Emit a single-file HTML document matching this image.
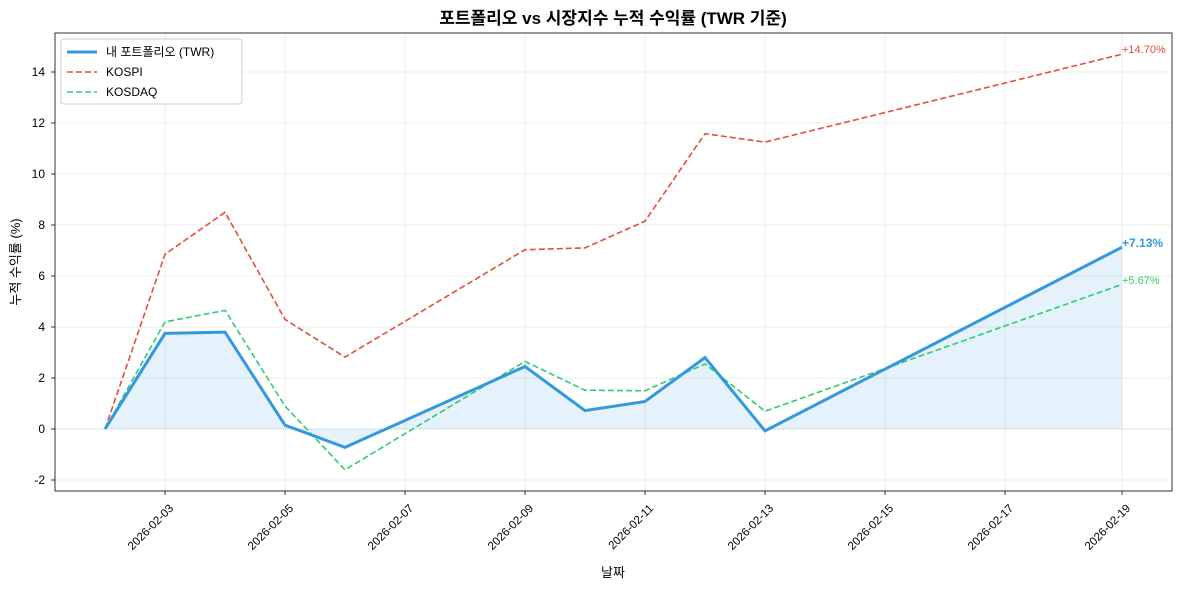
<!DOCTYPE html>
<html><head><meta charset="utf-8"><style>
body{margin:0;background:#fff;}
svg text{font-family:"Liberation Sans","Noto Sans CJK KR",sans-serif;}
</style></head><body>
<svg width="1182" height="590" xmlns="http://www.w3.org/2000/svg">
<rect width="1182" height="590" fill="#fff"/>
<text x="613" y="24" text-anchor="middle" font-size="17" font-weight="bold" fill="#000">포트폴리오 vs 시장지수 누적 수익률 (TWR 기준)</text>
<g stroke="#e6e6e6" stroke-width="0.8">
<line x1="55" x2="1172" y1="480" y2="480"/><line x1="55" x2="1172" y1="378" y2="378"/>
<line x1="55" x2="1172" y1="327" y2="327"/><line x1="55" x2="1172" y1="276" y2="276"/>
<line x1="55" x2="1172" y1="225" y2="225"/><line x1="55" x2="1172" y1="174" y2="174"/>
<line x1="55" x2="1172" y1="123" y2="123"/><line x1="55" x2="1172" y1="72" y2="72"/>
<line x1="165" x2="165" y1="33" y2="491"/><line x1="285" x2="285" y1="33" y2="491"/>
<line x1="405" x2="405" y1="33" y2="491"/><line x1="525" x2="525" y1="33" y2="491"/>
<line x1="645" x2="645" y1="33" y2="491"/><line x1="765" x2="765" y1="33" y2="491"/>
<line x1="885" x2="885" y1="33" y2="491"/><line x1="1005" x2="1005" y1="33" y2="491"/>
<line x1="1122" x2="1122" y1="33" y2="491"/>
</g>
<polygon points="105,429 165,333.4 225,332.1 285,425.2 345,447.4 525,366.5 585,410.6 645,401.5 705,357.6 765,430.8 1122,247.2 1122,429" fill="#3498db" fill-opacity="0.12"/>
<line x1="55" x2="1172" y1="429" y2="429" stroke="#888" stroke-width="0.6" stroke-dasharray="1,1"/>
<polyline points="105,429 165,254.3 225,212.3 285,319.4 345,357.1 525,249.7 585,247.9 645,221.2 705,133.7 765,142.1 1122,54.2" fill="none" stroke="#e74c3c" stroke-width="1.6" stroke-dasharray="6,3"/>
<polyline points="105,429 165,321.9 225,310.4 285,406.1 345,469.8 525,361.4 585,390.2 645,390.8 705,364 765,411.2 1122,284.4" fill="none" stroke="#2ecc71" stroke-width="1.6" stroke-dasharray="6,3"/>
<polyline points="105,429 165,333.4 225,332.1 285,425.2 345,447.4 525,366.5 585,410.6 645,401.5 705,357.6 765,430.8 1122,247.2" fill="none" stroke="#3498db" stroke-width="3"/>
<text x="1122" y="53" font-size="11" fill="#e74c3c">+14.70%</text>
<text x="1122" y="247" font-size="12" font-weight="bold" fill="#3498db">+7.13%</text>
<text x="1122" y="284" font-size="11" fill="#2ecc71">+5.67%</text>
<rect x="55" y="33" width="1117" height="458" fill="none" stroke="#000" stroke-width="0.8"/>
<g font-size="12" fill="#000" text-anchor="end">
<text x="45" y="484">-2</text><text x="45" y="433">0</text><text x="45" y="382">2</text>
<text x="45" y="331">4</text><text x="45" y="280">6</text><text x="45" y="229">8</text>
<text x="45" y="178">10</text><text x="45" y="127">12</text><text x="45" y="76">14</text>
</g>
<g stroke="#000" stroke-width="0.8">
<line x1="51" x2="55" y1="480" y2="480"/><line x1="51" x2="55" y1="429" y2="429"/><line x1="51" x2="55" y1="378" y2="378"/><line x1="51" x2="55" y1="327" y2="327"/><line x1="51" x2="55" y1="276" y2="276"/><line x1="51" x2="55" y1="225" y2="225"/><line x1="51" x2="55" y1="174" y2="174"/><line x1="51" x2="55" y1="123" y2="123"/><line x1="51" x2="55" y1="72" y2="72"/>
<line x1="165" x2="165" y1="491" y2="495"/><line x1="285" x2="285" y1="491" y2="495"/><line x1="405" x2="405" y1="491" y2="495"/><line x1="525" x2="525" y1="491" y2="495"/><line x1="645" x2="645" y1="491" y2="495"/><line x1="765" x2="765" y1="491" y2="495"/><line x1="885" x2="885" y1="491" y2="495"/><line x1="1005" x2="1005" y1="491" y2="495"/><line x1="1122" x2="1122" y1="491" y2="495"/>
</g>
<g font-size="11.5" fill="#000" text-anchor="end">
<text transform="translate(174,509) rotate(-45)">2026-02-03</text>
<text transform="translate(294,509) rotate(-45)">2026-02-05</text>
<text transform="translate(414,509) rotate(-45)">2026-02-07</text>
<text transform="translate(534,509) rotate(-45)">2026-02-09</text>
<text transform="translate(654,509) rotate(-45)">2026-02-11</text>
<text transform="translate(774,509) rotate(-45)">2026-02-13</text>
<text transform="translate(894,509) rotate(-45)">2026-02-15</text>
<text transform="translate(1014,509) rotate(-45)">2026-02-17</text>
<text transform="translate(1131,509) rotate(-45)">2026-02-19</text>
</g>
<text x="613" y="577" font-size="13" text-anchor="middle">날짜</text>
<text transform="translate(20,262) rotate(-90)" font-size="13" text-anchor="middle">누적 수익률 (%)</text>
<rect x="61" y="39" width="181" height="65" fill="#fff" stroke="#ccc" rx="3"/>
<line x1="67" x2="97" y1="52" y2="52" stroke="#3498db" stroke-width="3"/>
<line x1="67" x2="97" y1="72" y2="72" stroke="#e74c3c" stroke-width="1.6" stroke-dasharray="6,3"/>
<line x1="67" x2="97" y1="92" y2="92" stroke="#2ecc71" stroke-width="1.6" stroke-dasharray="6,3"/>
<g font-size="12" fill="#000">
<text x="106" y="56">내 포트폴리오 (TWR)</text>
<text x="106" y="76">KOSPI</text>
<text x="106" y="96">KOSDAQ</text>
</g>
</svg>
</body></html>
